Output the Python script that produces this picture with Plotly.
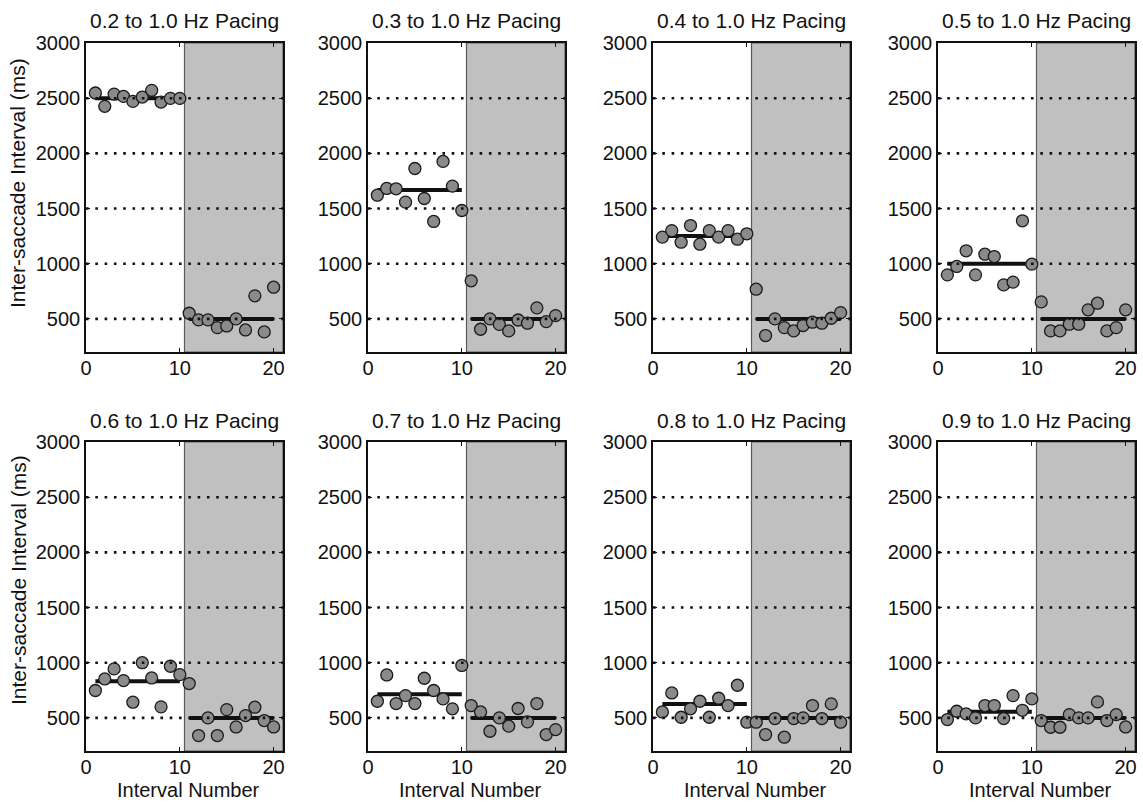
import plotly.graph_objects as go

# ---------------- data ----------------
interval_number = list(range(1, 21))

panel_titles = [
    "0.2 to 1.0 Hz Pacing", "0.3 to 1.0 Hz Pacing",
    "0.4 to 1.0 Hz Pacing", "0.5 to 1.0 Hz Pacing",
    "0.6 to 1.0 Hz Pacing", "0.7 to 1.0 Hz Pacing",
    "0.8 to 1.0 Hz Pacing", "0.9 to 1.0 Hz Pacing",
]

isi_02 = [2547, 2426, 2537, 2516, 2471, 2510, 2571, 2465, 2498, 2498,
          551, 491, 491, 421, 436, 500, 400, 709, 382, 787]
isi_03 = [1621, 1682, 1679, 1558, 1863, 1591, 1383, 1927, 1703, 1482,
          845, 406, 500, 450, 391, 490, 461, 600, 475, 530]
isi_04 = [1241, 1300, 1195, 1346, 1177, 1300, 1241, 1300, 1222, 1271,
          769, 349, 500, 421, 391, 440, 470, 461, 506, 557]
isi_05 = [899, 975, 1117, 899, 1086, 1065, 808, 833, 1389, 996,
          654, 391, 391, 452, 452, 582, 642, 391, 421, 582]
isi_06 = [748, 853, 944, 838, 642, 1000, 862, 600, 968, 892,
          811, 340, 500, 340, 575, 418, 521, 597, 476, 418]
isi_07 = [651, 889, 630, 702, 630, 859, 748, 672, 582, 975,
          612, 554, 379, 500, 425, 585, 464, 630, 349, 394]
isi_08 = [554, 726, 506, 582, 651, 506, 678, 612, 796, 461,
          461, 349, 494, 325, 494, 500, 612, 494, 627, 461]
isi_09 = [485, 560, 536, 500, 612, 612, 494, 702, 569, 672,
          476, 415, 415, 530, 500, 500, 645, 476, 530, 418]

series = [isi_02, isi_03, isi_04, isi_05, isi_06, isi_07, isi_08, isi_09]

# mean / target interval lines (ms)
target_first_half = [2500, 1667, 1250, 1000, 833, 714, 625, 556]
target_second_half = [500, 500, 500, 500, 500, 500, 500, 500]

y_ticks = [500, 1000, 1500, 2000, 2500, 3000]
x_ticks = [0, 10, 20]
grid_levels = [500, 1000, 1500, 2000, 2500]
shade_start = 10.5

# ---------------- layout geometry ----------------
W, H = 1143, 802
lefts = [86, 368, 653, 938]
tops = [43, 442]
pw, ph = 197, 309
FONT = "Liberation Sans, Arial, Helvetica, sans-serif"
FS = 20

fig = go.Figure()
layout = dict(
    width=W, height=H,
    margin=dict(l=0, r=0, t=0, b=0),
    paper_bgcolor="white", plot_bgcolor="white",
    showlegend=False,
    font=dict(family=FONT, size=FS, color="#111"),
)
shapes = []
annotations = []

for i, vals in enumerate(series):
    r, c = divmod(i, 4)
    sfx = "" if i == 0 else str(i + 1)
    xa, ya = "x" + sfx, "y" + sfx
    x0 = lefts[c] / W
    x1 = (lefts[c] + pw) / W
    y1 = 1 - tops[r] / H
    y0 = 1 - (tops[r] + ph) / H

    axis_common = dict(
        showgrid=False, zeroline=False, showline=True, mirror="ticks",
        linecolor="#111", linewidth=1.6, ticks="inside", ticklen=4,
        tickcolor="#111", tickwidth=1.2, automargin=False,
        tickfont=dict(family=FONT, size=FS, color="#111"),
    )
    layout["xaxis" + sfx] = dict(
        domain=[x0, x1], anchor=ya, range=[0, 21],
        tickvals=x_ticks, ticktext=[str(t) for t in x_ticks],
        ticklabelstandoff=-3, **axis_common)
    layout["yaxis" + sfx] = dict(
        domain=[y0, y1], anchor=xa, range=[200, 3000],
        tickvals=y_ticks, ticktext=[str(t) for t in y_ticks], **axis_common)

    # shaded second phase
    shapes.append(dict(type="rect", xref=xa, yref=ya + " domain",
                       x0=shade_start, x1=21, y0=0, y1=1,
                       fillcolor="#c0c0c0", line=dict(color="#5a5a5a", width=1.2),
                       layer="below"))
    # dotted reference lines (drawn above the markers)
    for lv in grid_levels:
        shapes.append(dict(type="line", xref=xa + " domain", yref=ya,
                           x0=0, x1=1, y0=lv, y1=lv,
                           line=dict(color="#111", width=2.6, dash="2.6px,6.7px"),
                           layer="above"))

    # mean lines
    fig.add_trace(go.Scatter(
        x=[interval_number[0], interval_number[9]],
        y=[target_first_half[i], target_first_half[i]],
        mode="lines", line=dict(color="#111", width=4),
        xaxis=xa, yaxis=ya, hoverinfo="skip"))
    fig.add_trace(go.Scatter(
        x=[interval_number[10], interval_number[19]],
        y=[target_second_half[i], target_second_half[i]],
        mode="lines", line=dict(color="#111", width=4),
        xaxis=xa, yaxis=ya, hoverinfo="skip"))
    # data points
    fig.add_trace(go.Scatter(
        x=interval_number, y=vals, mode="markers",
        marker=dict(size=12, color="#8a8a8a",
                    line=dict(color="#1a1a1a", width=1.3)),
        xaxis=xa, yaxis=ya))

    # panel title
    annotations.append(dict(
        text=panel_titles[i], xref="paper", yref="paper",
        x=(x0 + x1) / 2, y=1 - (tops[r] - 22) / H,
        xanchor="center", yanchor="middle", showarrow=False,
        font=dict(family=FONT, size=21, color="#111")))

    if r == 1:
        annotations.append(dict(
            text="Interval Number", xref="paper", yref="paper",
            x=(x0 + x1) / 2 + 4 / W, y=1 - 790 / H,
            xanchor="center", yanchor="middle", showarrow=False,
            font=dict(family=FONT, size=FS, color="#111")))

for yc in [183, 580]:
    annotations.append(dict(
        text="Inter-saccade Interval (ms)", xref="paper", yref="paper",
        x=18 / W, y=1 - yc / H, textangle=-90,
        xanchor="center", yanchor="middle", showarrow=False,
        font=dict(family=FONT, size=21, color="#111")))

layout["shapes"] = shapes
layout["annotations"] = annotations
fig.update_layout(**layout)
fig.write_html(
    "out.html",
    config={"displayModeBar": False},
    post_script="document.body.style.margin='0';document.body.style.overflow='hidden';",
)
